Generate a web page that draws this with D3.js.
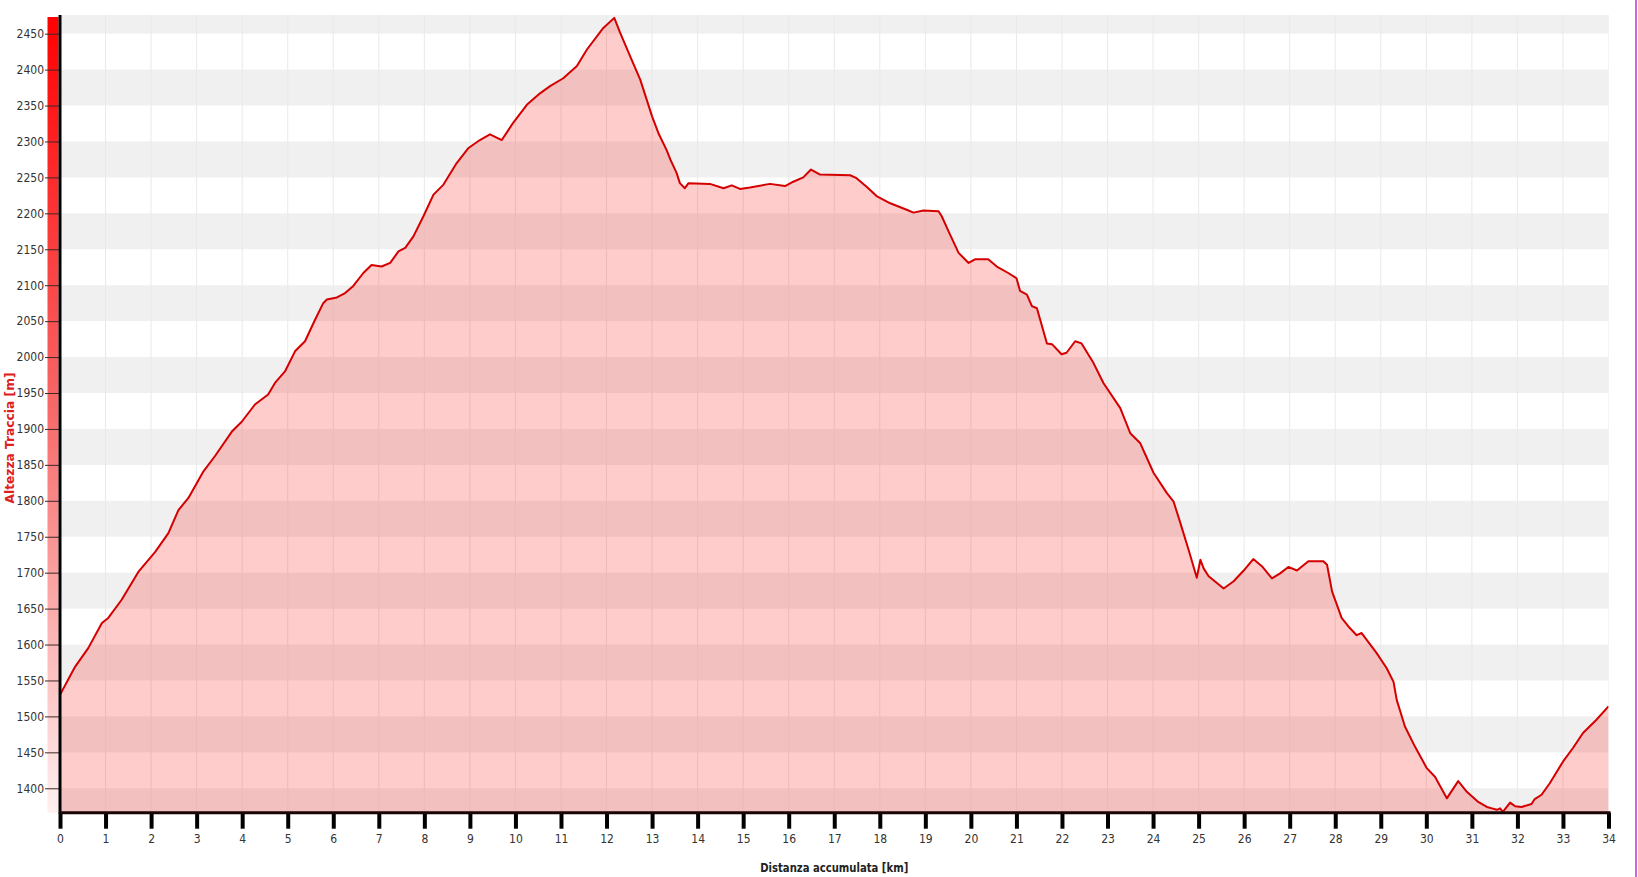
<!DOCTYPE html>
<html>
<head>
<meta charset="utf-8">
<script src="https://cdn.jsdelivr.net/npm/d3@7"></script>
<style>
    body { margin: 0; background: #fff; }
    svg { display: block; }
    .tick text { font-family: "DejaVu Sans Condensed", "DejaVu Sans", sans-serif; font-size: 12px; fill: #333; }
</style>
</head>
<body>
<div id="chart"></div>
<script>
var km = [0.00, 0.33, 0.62, 0.92, 1.06, 1.35, 1.72, 2.09, 2.38, 2.60, 2.82, 3.15, 3.40, 3.77, 3.99,
    4.28, 4.57, 4.72, 4.94, 5.16, 5.38, 5.60, 5.78, 5.86, 6.08, 6.26, 6.44, 6.66, 6.84, 7.06, 7.25,
    7.43, 7.58, 7.76, 7.98, 8.20, 8.42, 8.71, 8.97, 9.22, 9.44, 9.70, 9.95, 10.25, 10.54, 10.76,
    11.05, 11.35, 11.57, 11.93, 12.17, 12.30, 12.55, 12.74, 13.00, 13.15, 13.32, 13.40, 13.54,
    13.61, 13.72, 13.80, 14.27, 14.57, 14.75, 14.93, 15.15, 15.59, 15.92, 16.10, 16.32, 16.49,
    16.69, 17.35, 17.49, 17.71, 17.93, 18.23, 18.59, 18.74, 18.96, 19.29, 19.36, 19.51, 19.73,
    19.95, 20.09, 20.38, 20.57, 20.82, 21.00, 21.08, 21.23, 21.34, 21.45, 21.67, 21.78, 21.99,
    22.10, 22.29, 22.43, 22.69, 22.91, 23.28, 23.50, 23.72, 24.01, 24.30, 24.45, 24.59, 24.78,
    24.96, 25.04, 25.11, 25.22, 25.55, 25.77, 25.99, 26.20, 26.39, 26.61, 26.79, 26.97, 27.16,
    27.41, 27.63, 27.74, 27.82, 27.93, 28.14, 28.32, 28.47, 28.58, 28.91, 29.13, 29.28, 29.35,
    29.53, 29.75, 30.01, 30.19, 30.45, 30.70, 30.89, 31.14, 31.33, 31.44, 31.55, 31.62, 31.68,
    31.84, 31.95, 32.09, 32.31, 32.38, 32.53, 32.71, 33.00, 33.22, 33.44, 33.73, 34.00];

var quota = [1530, 1569, 1595, 1630, 1637, 1662, 1701, 1729, 1755, 1787, 1804, 1841, 1862, 1896, 1910,
    1934, 1948, 1964, 1980, 2008, 2022, 2052, 2075, 2080, 2083, 2089, 2099, 2117, 2128, 2126, 2131,
    2147, 2152, 2168, 2196, 2226, 2240, 2270, 2291, 2302, 2310, 2302, 2326, 2351, 2367, 2377,
    2388, 2405, 2428, 2458, 2472, 2451, 2414, 2386, 2335, 2310, 2288, 2275, 2256,
    2242, 2235, 2242, 2241, 2235, 2239, 2234, 2236, 2241, 2238, 2244, 2250, 2261,
    2254, 2253, 2249, 2237, 2224, 2214, 2205, 2201, 2204, 2203, 2196, 2175, 2145,
    2131, 2136, 2136, 2126, 2117, 2110, 2092, 2087, 2071, 2068, 2019, 2018, 2004,
    2006, 2022, 2019, 1992, 1964, 1929, 1894, 1880, 1839, 1811, 1799, 1771, 1732,
    1693, 1718, 1706, 1695, 1678, 1688, 1703, 1719, 1709, 1692, 1699, 1708, 1703,
    1716, 1716, 1716, 1711, 1674, 1637, 1623, 1613, 1616, 1588, 1567, 1548, 1523,
    1486, 1458, 1428, 1416, 1386, 1410, 1395, 1381, 1374, 1372, 1370, 1372, 1367,
    1380, 1375, 1374, 1378, 1385, 1391, 1407, 1437, 1456, 1477, 1495, 1514];

var yTicks = d3.range(1400, 2451, 50);
var xTicks = d3.range(0, 35, 1);
var bandStarts = d3.range(1350, 2500, 100);

var width = 1638,
    height = 877;

var mLeft = 60, mRight = 1608.5, mTop = 15, mBottom = 812.7;

var data = km.map(function (d, i) { return { km: d, h: quota[i] }; });

var x = d3.scaleLinear().domain([0, 34]).range([mLeft, mRight]);
var y = d3.scaleLinear().domain([1366, 2476]).range([mBottom, mTop]);

var svg = d3.select("#chart").append("svg")
    .attr("width", width)
    .attr("height", height);

var defs = svg.append("defs");
defs.append("clipPath").attr("id", "plot")
    .append("rect")
    .attr("x", mLeft).attr("y", mTop)
    .attr("width", mRight - mLeft).attr("height", mBottom - mTop);

var grad = defs.append("linearGradient").attr("id", "barra")
    .attr("x1", 0).attr("y1", 0).attr("x2", 0).attr("y2", 1);
grad.append("stop").attr("offset", "0%").attr("stop-color", "#ff0000");
grad.append("stop").attr("offset", "50%").attr("stop-color", "#f86a6a");
grad.append("stop").attr("offset", "100%").attr("stop-color", "#fff0f0");

var g = svg.append("g").attr("clip-path", "url(#plot)");

// fasce grigie alternate
g.selectAll("rect.band")
    .data(bandStarts)
    .enter().append("rect")
    .attr("class", "band")
    .attr("x", mLeft)
    .attr("width", mRight - mLeft)
    .attr("y", function (d) { return y(d + 50); })
    .attr("height", function (d) { return y(d) - y(d + 50); })
    .style("fill", "#f0f0f0");

// griglia verticale
g.selectAll("line.vgrid")
    .data(xTicks.slice(1))
    .enter().append("line")
    .attr("class", "vgrid")
    .attr("x1", function (d) { return x(d); })
    .attr("x2", function (d) { return x(d); })
    .attr("y1", mTop)
    .attr("y2", mBottom)
    .style("stroke", "#e9e9e9")
    .style("stroke-width", 1);

var area = d3.area()
    .x(function (d) { return x(d.km); })
    .y0(mBottom)
    .y1(function (d) { return y(d.h); });

var line = d3.line()
    .x(function (d) { return x(d.km); })
    .y(function (d) { return y(d.h); });

g.append("path")
    .datum(data)
    .attr("d", area)
    .style("fill", "#ff0000")
    .style("fill-opacity", 0.2);

g.append("path")
    .datum(data)
    .attr("d", line)
    .style("fill", "none")
    .style("stroke", "#d40000")
    .style("stroke-width", 2)
    .style("stroke-linejoin", "round");

// barra colorata a sinistra
svg.append("rect")
    .attr("x", 47.5)
    .attr("y", 17)
    .attr("width", 11)
    .attr("height", mBottom - 17)
    .style("fill", "url(#barra)");

var yAxis = svg.append("g")
    .attr("transform", "translate(" + mLeft + ",0)")
    .call(d3.axisLeft(y).tickValues(yTicks).tickSize(15).tickPadding(1).tickFormat(d3.format("d")));
yAxis.select(".domain").remove();
yAxis.selectAll(".tick line").style("stroke", "#3a2a2a");

var xAxis = svg.append("g")
    .attr("transform", "translate(0," + mBottom + ")")
    .call(d3.axisBottom(x).tickValues(xTicks).tickSize(16).tickPadding(6).tickFormat(d3.format("d")));
xAxis.select(".domain").remove();
xAxis.selectAll(".tick line").style("stroke", "#000").style("stroke-width", 4);

// assi spessi
svg.append("line")
    .attr("x1", mLeft).attr("x2", mLeft)
    .attr("y1", mTop).attr("y2", mBottom + 1)
    .style("stroke", "#000").style("stroke-width", 3);
svg.append("line")
    .attr("x1", mLeft - 1).attr("x2", mRight + 2)
    .attr("y1", mBottom).attr("y2", mBottom)
    .style("stroke", "#1a0505").style("stroke-width", 3);

svg.append("text")
    .attr("x", (mLeft + mRight) / 2)
    .attr("y", 872)
    .attr("text-anchor", "middle")
    .attr("textLength", 148)
    .attr("lengthAdjust", "spacingAndGlyphs")
    .style("font-family", "'DejaVu Sans Condensed', 'DejaVu Sans', sans-serif")
    .style("font-size", "13px")
    .style("font-weight", "bold")
    .style("fill", "#222")
    .text("Distanza accumulata [km]");

svg.append("text")
    .attr("transform", "translate(14,438) rotate(-90)")
    .attr("text-anchor", "middle")
    .attr("textLength", 131)
    .attr("lengthAdjust", "spacingAndGlyphs")
    .style("font-family", "'DejaVu Sans Condensed', 'DejaVu Sans', sans-serif")
    .style("font-size", "13px")
    .style("font-weight", "bold")
    .style("fill", "#dd2020")
    .text("Altezza Traccia [m]");

// bordo destro
svg.append("rect")
    .attr("x", 1635)
    .attr("y", 0)
    .attr("width", 2)
    .attr("height", height)
    .style("fill", "#cc66dd");
</script>
</body>
</html>
